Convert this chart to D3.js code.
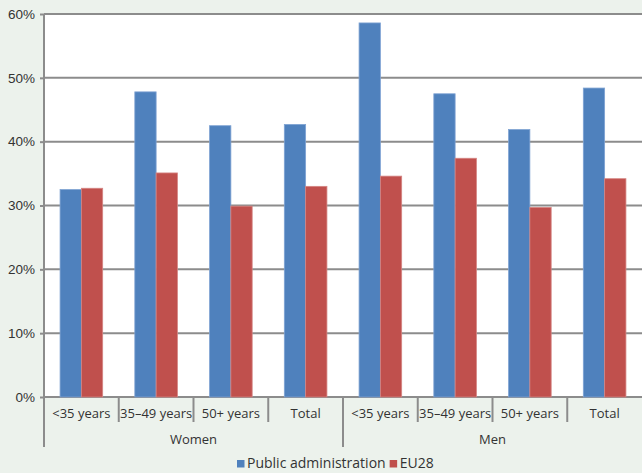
<!DOCTYPE html>
<html>
<head>
<meta charset="utf-8">
<script src="https://cdn.jsdelivr.net/npm/d3@7"></script>
<style>
  html, body { margin: 0; padding: 0; background: #ecf2ec; }
  svg { display: block; font-family: "Open Sans", "DejaVu Sans", sans-serif; }
</style>
</head>
<body>
<svg id="chart" width="642" height="473"></svg>
<script>
// Share of workers by age group and sex: public administration vs EU28 average
const groups = ["Women", "Men"];
const ageGroups = ["<35 years", "35\u201349 years", "50+ years", "Total"];
const seriesNames = ["Public administration", "EU28"];
const publicAdmin = [32.5, 47.8, 42.5, 42.7, 58.6, 47.5, 41.9, 48.4];
const eu28 = [32.7, 35.1, 29.9, 33.0, 34.6, 37.4, 29.7, 34.2];
const yTicks = [0, 10, 20, 30, 40, 50, 60];
const colors = ["#4f81bd", "#c0504d"];

const svg = d3.select("#chart");
const W = 642, H = 473;
const m = { left: 44, right: 0, top: 14, bottom: 76 };
const plotW = W - m.left - m.right;
const plotH = H - m.top - m.bottom;

const categories = [];
groups.forEach(g => ageGroups.forEach(a => categories.push(g + "|" + a)));

const x = d3.scaleBand().domain(categories).range([m.left, m.left + plotW]).paddingInner(0.43).paddingOuter(0.215);
const xCat = d3.scaleBand().domain(categories).range([m.left, m.left + plotW]);
const y = d3.scaleLinear().domain([0, 60]).range([m.top + plotH, m.top]);
const xSub = d3.scaleBand().domain(seriesNames).range([0, x.bandwidth()]);

// plot area
svg.append("rect").attr("x", m.left).attr("y", m.top).attr("width", plotW).attr("height", plotH).attr("fill", "#fff");

// gridlines
svg.append("g").selectAll("line").data(yTicks).join("line")
  .attr("x1", m.left).attr("x2", m.left + plotW)
  .attr("y1", d => y(d)).attr("y2", d => y(d))
  .attr("stroke", "#8c8c8c").attr("stroke-width", 2);

// y axis labels
const yAxis = d3.axisLeft(y).tickValues(yTicks).tickFormat(d => d + "%").tickSize(4).tickPadding(5);
const ya = svg.append("g").attr("transform", `translate(${m.left},0)`).call(yAxis);
ya.select(".domain").remove();
ya.selectAll(".tick line").attr("stroke", "#8c8c8c").attr("stroke-width", 2);
ya.selectAll("text").attr("fill", "#333").attr("font-size", 13.5);

// bars
const data = categories.map((c, i) => ({ c, vals: [publicAdmin[i], eu28[i]] }));
const bg = svg.append("g").selectAll("g").data(data).join("g")
  .attr("transform", d => `translate(${x(d.c)},0)`);
bg.selectAll("rect").data(d => d.vals.map((v, k) => ({ v, k }))).join("rect")
  .attr("x", d => xSub(seriesNames[d.k]))
  .attr("width", xSub.bandwidth())
  .attr("y", d => y(d.v))
  .attr("height", d => y(0) - y(d.v))
  .attr("fill", d => colors[d.k])
  .attr("stroke", d => d.k === 0 ? "#7fa3d3" : "#d58583")
  .attr("stroke-width", 0.8);

// y axis line (left) and category axis
const axisColor = "#8c8c8c";
const y0 = y(0);
svg.append("line").attr("x1", m.left).attr("x2", m.left).attr("y1", m.top).attr("y2", y0 + 50)
  .attr("stroke", axisColor).attr("stroke-width", 2);

// category separators
const catBounds = categories.slice(1).map(c => xCat(c));
svg.append("g").selectAll("line").data(catBounds).join("line")
  .attr("x1", d => d).attr("x2", d => d)
  .attr("y1", y0).attr("y2", (d, i) => (i + 1) % ageGroups.length === 0 ? y0 + 50 : y0 + 25)
  .attr("stroke", axisColor).attr("stroke-width", 2);

// category labels
svg.append("g").selectAll("text").data(categories).join("text")
  .attr("x", d => xCat(d) + xCat.bandwidth() / 2)
  .attr("y", y0 + 21)
  .attr("text-anchor", "middle")
  .attr("font-size", 13).attr("fill", "#333")
  .text(d => d.split("|")[1]);

// group labels
svg.append("g").selectAll("text").data(groups).join("text")
  .attr("x", g => {
    const cs = categories.filter(c => c.startsWith(g + "|"));
    return (xCat(cs[0]) + xCat(cs[cs.length - 1]) + xCat.bandwidth()) / 2;
  })
  .attr("y", y0 + 47)
  .attr("text-anchor", "middle")
  .attr("font-size", 13).attr("fill", "#333")
  .text(g => g);

// legend
const legend = svg.append("g").attr("transform", `translate(0, ${H - 5})`);
let lx = 237;
seriesNames.forEach((s, k) => {
  legend.append("rect").attr("x", lx).attr("y", -8).attr("width", 7.5).attr("height", 7.5).attr("fill", colors[k]);
  const t = legend.append("text").attr("x", lx + 10).attr("y", 0).attr("font-size", 14).attr("fill", "#333").text(s);
  lx += 10 + t.node().getComputedTextLength() + 4;
});
</script>
</body>
</html>
